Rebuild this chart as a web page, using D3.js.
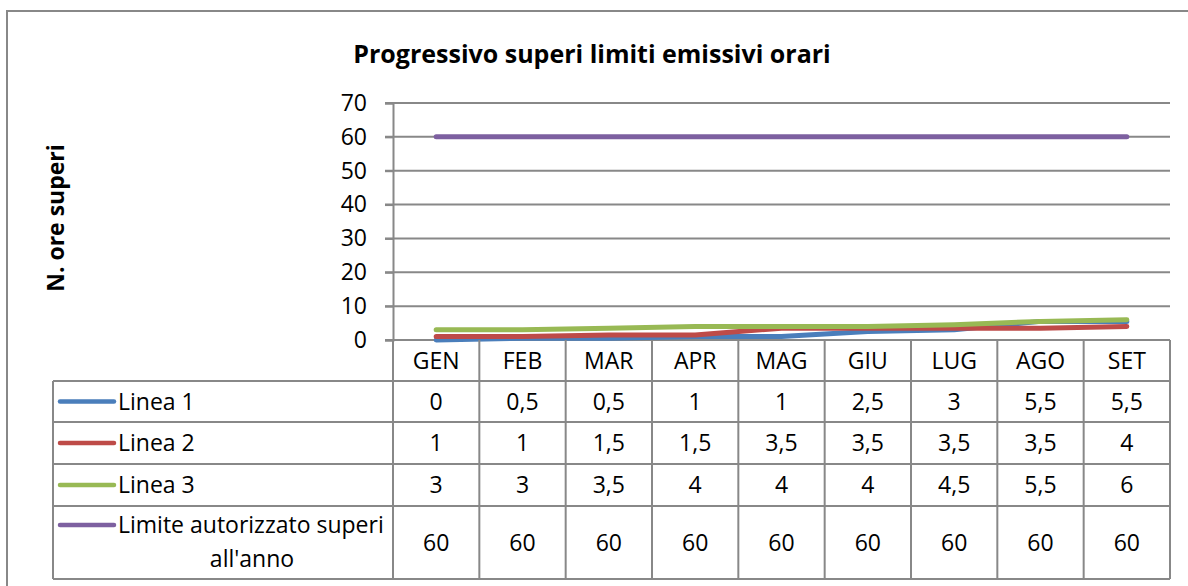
<!DOCTYPE html>
<html>
<head>
<meta charset="utf-8">
<script src="https://d3js.org/d3.v7.min.js"></script>
<style>
  body { margin: 0; background: #fff; }
  text { font-family: "Open Sans", "DejaVu Sans", sans-serif; fill: #000; }
</style>
</head>
<body>
<svg width="1188" height="586"></svg>
<script>
// data
var months = ['GEN', 'FEB', 'MAR', 'APR', 'MAG', 'GIU', 'LUG', 'AGO', 'SET'];
var seriesNames = ['Linea 1', 'Linea 2', 'Linea 3', 'Limite autorizzato superi all\'anno'];
var linea1 = [0, 0.5, 0.5, 1, 1, 2.5, 3, 5.5, 5.5];
var linea2 = [1, 1, 1.5, 1.5, 3.5, 3.5, 3.5, 3.5, 4];
var linea3 = [3, 3, 3.5, 4, 4, 4, 4.5, 5.5, 6];
var limite = [60, 60, 60, 60, 60, 60, 60, 60, 60];
var yTicks = [0, 10, 20, 30, 40, 50, 60, 70];

var series = [linea1, linea2, linea3, limite];
var colors = ['#4a7ebb', '#be4b48', '#98b954', '#7d60a0'];
var grid = '#888888';
var fs = '23px';

var svg = d3.select('svg');
var itLocale = d3.formatLocale({decimal: ',', thousands: '.', grouping: [3], currency: ['', '€']});
var fmt = itLocale.format('~g');

// outer chart frame
svg.append('rect')
  .attr('x', 7).attr('y', 11).attr('width', 1300).attr('height', 700)
  .attr('fill', 'none').attr('stroke', grid).attr('stroke-width', 2);

// title
svg.append('text')
  .attr('x', 592).attr('y', 63)
  .attr('text-anchor', 'middle')
  .style('font-size', '25px').style('font-weight', 'bold')
  .text('Progressivo superi limiti emissivi orari');

// axis title
svg.append('text')
  .attr('transform', 'translate(64,218) rotate(-90)')
  .attr('text-anchor', 'middle')
  .style('font-size', '23px').style('font-weight', 'bold')
  .text('N. ore superi');

var x = d3.scaleBand().domain(months).range([393, 1170]);
var y = d3.scaleLinear().domain([0, 70]).range([340, 103]);

// gridlines
svg.append('g').selectAll('line')
  .data(yTicks).enter().append('line')
  .attr('x1', 385).attr('x2', 1170)
  .attr('y1', function(d) { return y(d); })
  .attr('y2', function(d) { return y(d); })
  .attr('stroke', grid).attr('stroke-width', 2);

// y axis
var yAxis = svg.append('g')
  .attr('transform', 'translate(393,0)')
  .call(d3.axisLeft(y).tickValues(yTicks).tickSize(8).tickPadding(18).tickFormat(fmt));
yAxis.select('.domain').attr('stroke', grid).attr('stroke-width', 2);
yAxis.selectAll('.tick line').attr('stroke', grid).attr('stroke-width', 2);
yAxis.selectAll('.tick text')
  .style('font-family', '"Open Sans", sans-serif').style('font-size', fs).attr('fill', '#000');

// series lines
var line = d3.line()
  .x(function(d, i) { return x(months[i]) + x.bandwidth() / 2; })
  .y(function(d) { return y(d); });
svg.append('g').selectAll('path')
  .data(series).enter().append('path')
  .attr('d', line)
  .attr('fill', 'none')
  .attr('stroke', function(d, i) { return colors[i]; })
  .attr('stroke-width', 5)
  .attr('stroke-linecap', 'round')
  .attr('stroke-linejoin', 'round');

// data table
var rowEdges = [340, 381, 422, 464, 506, 579];
var tableLeft = 53;
var t = svg.append('g');

// horizontal rules
t.selectAll('line.h')
  .data(rowEdges.slice(1)).enter().append('line')
  .attr('x1', tableLeft).attr('x2', 1170)
  .attr('y1', function(d) { return d; }).attr('y2', function(d) { return d; })
  .attr('stroke', grid).attr('stroke-width', 2);

// vertical rules
var colEdges = months.map(function(m) { return x(m); }).concat([x.range()[1]]);
t.selectAll('line.v')
  .data(colEdges).enter().append('line')
  .attr('x1', function(d) { return d; }).attr('x2', function(d) { return d; })
  .attr('y1', 340).attr('y2', 579)
  .attr('stroke', grid).attr('stroke-width', 2);
t.append('line')
  .attr('x1', tableLeft).attr('x2', tableLeft).attr('y1', 381).attr('y2', 579)
  .attr('stroke', grid).attr('stroke-width', 2);

// month header
t.selectAll('text.m')
  .data(months).enter().append('text')
  .attr('x', function(d) { return x(d) + x.bandwidth() / 2; })
  .attr('y', (rowEdges[0] + rowEdges[1]) / 2)
  .attr('dy', '0.35em').attr('text-anchor', 'middle')
  .style('font-size', fs)
  .text(function(d) { return d; });

// rows
series.forEach(function(vals, r) {
  var top = rowEdges[r + 1], bot = rowEdges[r + 2];
  var mid = (top + bot) / 2;
  var ly = r === 3 ? top + 19 : mid;
  t.append('line')
    .attr('x1', 60).attr('x2', 114).attr('y1', ly).attr('y2', ly)
    .attr('stroke', colors[r]).attr('stroke-width', 4.5).attr('stroke-linecap', 'round');
  if (r === 3) {
    t.append('text').attr('x', 118).attr('y', ly).attr('dy', '0.35em')
      .style('font-size', fs).text('Limite autorizzato superi');
    t.append('text').attr('x', 252).attr('y', ly + 34).attr('dy', '0.35em')
      .attr('text-anchor', 'middle')
      .style('font-size', fs).text('all\'anno');
  } else {
    t.append('text').attr('x', 118).attr('y', ly).attr('dy', '0.35em')
      .style('font-size', fs).text(seriesNames[r]);
  }
  t.selectAll(null)
    .data(vals).enter().append('text')
    .attr('x', function(d, i) { return x(months[i]) + x.bandwidth() / 2; })
    .attr('y', mid).attr('dy', '0.35em').attr('text-anchor', 'middle')
    .style('font-size', fs)
    .text(function(d) { return fmt(d); });
});
</script>
</body>
</html>
